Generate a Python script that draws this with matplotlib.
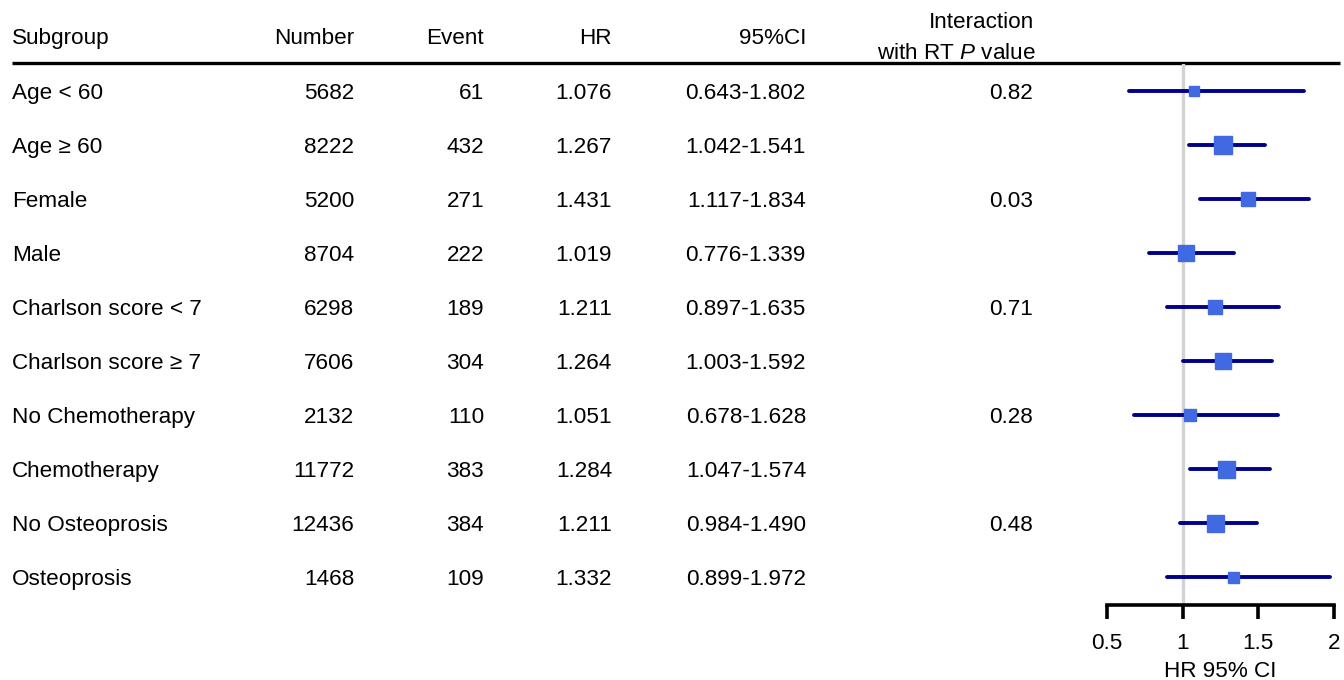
import matplotlib
matplotlib.use("Agg")
import matplotlib.pyplot as plt

plt.rcParams['font.family'] = ['Liberation Sans', 'DejaVu Sans']
plt.rcParams['mathtext.fontset'] = 'custom'
plt.rcParams['mathtext.rm'] = 'Liberation Sans'
plt.rcParams['mathtext.it'] = 'Liberation Sans:italic'

subgroups = ["Age < 60", "Age \u2265 60", "Female", "Male", "Charlson score < 7",
             "Charlson score \u2265 7", "No Chemotherapy", "Chemotherapy",
             "No Osteoprosis", "Osteoprosis"]
numbers = [5682, 8222, 5200, 8704, 6298, 7606, 2132, 11772, 12436, 1468]
events = [61, 432, 271, 222, 189, 304, 110, 383, 384, 109]
hr = [1.076, 1.267, 1.431, 1.019, 1.211, 1.264, 1.051, 1.284, 1.211, 1.332]
ci_low = [0.643, 1.042, 1.117, 0.776, 0.897, 1.003, 0.678, 1.047, 0.984, 0.899]
ci_high = [1.802, 1.541, 1.834, 1.339, 1.635, 1.592, 1.628, 1.574, 1.490, 1.972]
p_values = ["0.82", "", "0.03", "", "0.71", "", "0.28", "", "0.48", ""]
box_px = [10, 18, 14, 16, 14, 16, 12, 17, 17, 11]
xticks = [0.5, 1, 1.5, 2]
xtick_labels = ["0.5", "1", "1.5", "2"]

W, H = 1344, 680
fig = plt.figure(figsize=(W / 100, H / 100), dpi=100)

row0, step = 91, 54
top_px, bot_px = 64, 605
ylim = ((bot_px - row0) / step, (top_px - row0) / step)
def ypx(p):
    return (p - row0) / step

fs = 16.2
# table axes
tab = fig.add_axes([0, 1 - bot_px / H, 1, (bot_px - top_px) / H])
tab.set_xlim(0, W)
tab.set_ylim(*ylim)
tab.axis('off')

kw = dict(va='baseline', fontsize=fs)
hdr_y = ypx(44)
tab.text(12, hdr_y, "Subgroup", ha='left', **kw)
tab.text(354, hdr_y, "Number", ha='right', **kw)
tab.text(484, hdr_y, "Event", ha='right', **kw)
tab.text(612, hdr_y, "HR", ha='right', **kw)
tab.text(806, hdr_y, "95%CI", ha='right', **kw)
tab.text(1034, ypx(28), "Interaction", ha='right', **kw)
tab.text(1036, ypx(59), r"with RT $\it{P}$ value", ha='right', **kw)
tab.plot([12, 1340], [ypx(63), ypx(63)], color='black', lw=2.4, clip_on=False,
         solid_capstyle='butt')

dy = ypx(99) - ypx(91)
for i in range(len(subgroups)):
    yy = i + dy
    tab.text(12, yy, subgroups[i], ha='left', **kw)
    tab.text(354, yy, str(numbers[i]), ha='right', **kw)
    tab.text(484, yy, str(events[i]), ha='right', **kw)
    tab.text(612, yy, f"{hr[i]:.3f}", ha='right', **kw)
    tab.text(806, yy, f"{ci_low[i]:.3f}-{ci_high[i]:.3f}", ha='right', **kw)
    if p_values[i]:
        tab.text(1033, yy, p_values[i], ha='right', **kw)

# forest axes
x0, x1 = 1107, 1334
fa = fig.add_axes([x0 / W, 1 - bot_px / H, (x1 - x0) / W, (bot_px - top_px) / H])
fa.set_facecolor('none')
fa.set_xlim(0.5, 2)
fa.set_ylim(*ylim)
fa.axvline(1, color='#d3d3d3', lw=2.4, zorder=1)
for i in range(len(subgroups)):
    fa.plot([ci_low[i], ci_high[i]], [i, i], color='#00008B', lw=2.8,
            solid_capstyle='round', zorder=2, clip_on=False)
    fa.plot([hr[i]], [i], marker='s', markersize=box_px[i] * 0.72,
            color='#4169E1', markeredgecolor='#4169E1', zorder=3, clip_on=False)
for s in ['top', 'right', 'left']:
    fa.spines[s].set_visible(False)
fa.spines['bottom'].set_linewidth(2.6)
fa.set_yticks([])
fa.set_xticks(xticks)
fa.set_xticklabels(xtick_labels, fontsize=fs)
fa.tick_params(axis='x', direction='out', length=10, width=2.6, pad=10)
fa.set_xlabel("HR 95% CI", fontsize=fs, labelpad=5)

fig.savefig("out.png", dpi=100)
